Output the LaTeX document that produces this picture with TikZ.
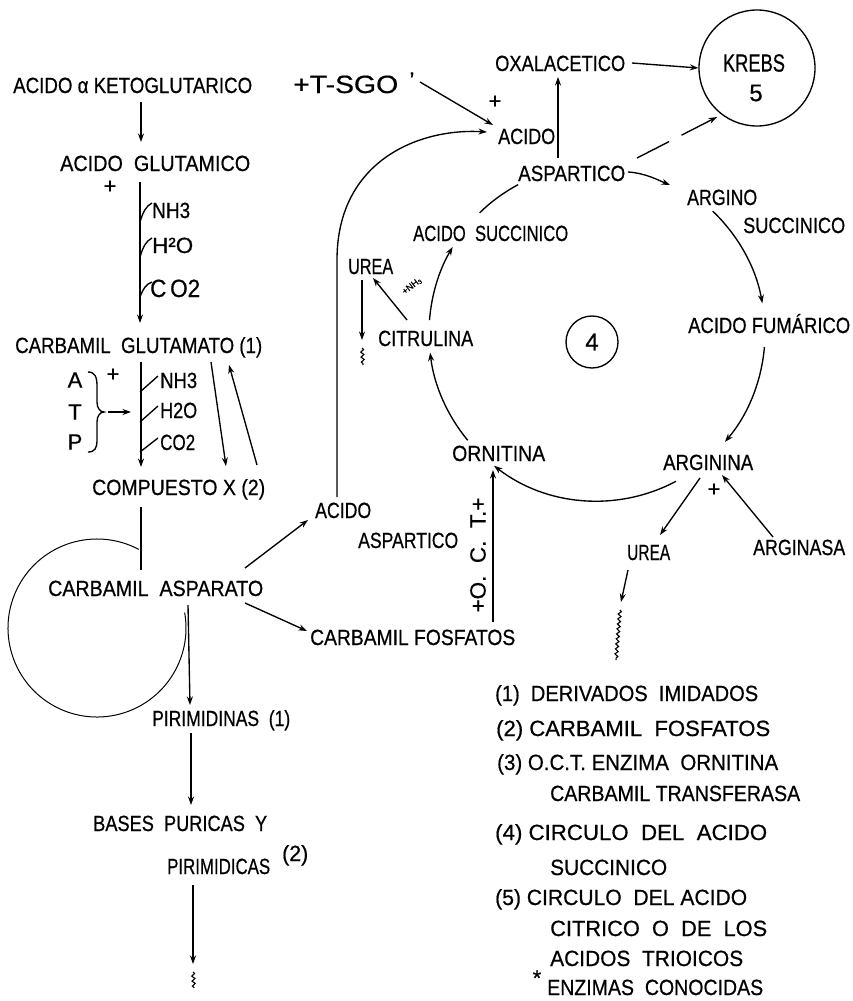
\documentclass[tikz,border=0pt]{standalone}
\usepackage{fontspec}
\setmainfont{Liberation Sans}[FakeBold=0.6]
\usepackage{graphicx}
\usetikzlibrary{arrows.meta,calc,decorations.pathmorphing}
\newcommand\tw[2]{\resizebox{#1pt}{\height}{#2}}
\begin{document}
\begin{tikzpicture}[x=1pt,y=1pt,
 txt/.style={anchor=base west, inner sep=0pt, yshift=-8pt, font=\fontsize{22}{26}\selectfont},
 ctxt/.style={anchor=center, inner sep=0pt, font=\fontsize{22}{26}\selectfont},
 ln/.style={line width=1.35pt},
 arr/.style={ln, -{Stealth[length=8.5pt,width=6pt]}},
 wig/.style={line width=1.1pt, decorate, decoration={snake, amplitude=1.5pt, segment length=5pt}}]
\fill[white] (0,0) rectangle (853,-1001);
\useasboundingbox (0,0) rectangle (853,-1001);

% ---------------- left column ----------------
\node[txt] (akg) at (13,-85) {\tw{239}{ACIDO α KETOGLUTARICO}};
\node[txt] (agl) at (60,-163) {\tw{190}{ACIDO\ \ GLUTAMICO}};
\node[ctxt] (pl1) at (110,-187) {+};
\node[txt] (nh3a) at (152,-210) {\tw{38}{NH3}};
\node[txt] (h2oa) at (152,-245) {\tw{41}{H²O}};
\node[txt, font=\fontsize{25}{28}\selectfont] (co2a) at (150,-289) {\tw{50}{C\,O2}};
\node[txt] (cgl) at (15,-345) {\tw{247}{CARBAMIL\ \ GLUTAMATO (1)}};
\node[ctxt] (lA) at (75,-380) {A};
\node[ctxt] (lT) at (75,-412) {T};
\node[ctxt] (lP) at (75,-442) {P};
\node[ctxt] (pl2) at (113,-375) {+};
\node[txt] (nh3b) at (160,-380) {\tw{37}{NH3}};
\node[txt] (h2ob) at (160,-410) {\tw{37}{H2O}};
\node[txt] (co2b) at (160,-442) {\tw{35}{CO2}};
\node[txt] (comp) at (92,-487) {\tw{173}{COMPUESTO X (2)}};
\node[txt] (cas) at (48,-588) {\tw{215}{CARBAMIL\ \ ASPARATO}};
\node[txt] (pir) at (152,-718) {\tw{138}{PIRIMIDINAS\ \ (1)}};
\node[txt] (bases) at (93,-823) {\tw{174}{BASES\ \ PURICAS\ \ Y}};
\node[txt] (pirim) at (167,-866) {\tw{103}{PIRIMIDICAS}};
\node[txt] (two) at (282,-853) {\tw{26}{(2)}};

% ---------------- middle ----------------
\node[txt] (acido2) at (315,-510) {\tw{56}{ACIDO}};
\node[txt] (asp2) at (358,-540) {\tw{100}{ASPARTICO}};
\node[txt] (cf) at (310,-637) {\tw{205}{CARBAMIL\ FOSFATOS}};
\node[ctxt, rotate=90] (oct) at (478,-555) {\tw{115}{+O.\ \ C.\ \ T.+}};
\node[txt] (orn) at (452,-453) {\tw{93}{ORNITINA}};
\node[txt] (cit) at (378,-338) {\tw{95}{CITRULINA}};
\node[txt] (urea1) at (348,-266) {\tw{45}{UREA}};
\node[ctxt, rotate=38, font=\fontsize{9}{10}\selectfont] (nh3s) at (412,-286) {+NH\textsubscript{3}};
\node[txt] (asuc) at (413,-233) {\tw{155}{ACIDO\ \ SUCCINICO}};
\node[txt] (acido1) at (498,-136) {\tw{57}{ACIDO}};
\node[ctxt] (pl4) at (495,-102) {+};
\node[txt] (asp1) at (518,-173) {\tw{107}{ASPARTICO}};
\node[txt] (oxal) at (495,-63) {\tw{130}{OXALACETICO}};
\node[txt, font=\fontsize{25}{28}\selectfont] (tsgo) at (293,-85) {\tw{105}{+T-SGO}};
\node[ctxt] (apos) at (412,-80) {’};
\node[circle, draw, ln, minimum size=116pt, inner sep=0pt] (krebs) at (757,-68) {};
\node[ctxt, font=\fontsize{25}{28}\selectfont] (krebst) at (754,-63) {\tw{62}{KREBS}};
\node[ctxt, font=\fontsize{24}{28}\selectfont] (five) at (756,-93) {5};
\node[circle, draw, ln, minimum size=52pt, inner sep=0pt, font=\fontsize{24}{28}\selectfont] (four) at (592,-342) {4};

% ---------------- right ----------------
\node[txt] (argino) at (687,-197) {\tw{70}{ARGINO}};
\node[txt] (succ) at (743,-225) {\tw{102}{SUCCINICO}};
\node[txt] (fum) at (688,-325) {\tw{162}{ACIDO\ FUMÁRICO}};
\node[txt] (argn) at (663,-462) {\tw{90}{ARGININA}};
\node[ctxt] (pl3) at (714,-490) {+};
\node[txt] (urea2) at (627,-552) {\tw{43}{UREA}};
\node[txt] (arginasa) at (753,-547) {\tw{92}{ARGINASA}};

% ---------------- legend ----------------
\node[txt] (l1) at (495,-693) {\tw{263}{(1)\ \ DERIVADOS\ \ IMIDADOS}};
\node[txt] (l2) at (496,-728) {\tw{274}{(2)\ CARBAMIL\ \ FOSFATOS}};
\node[txt] (l3) at (497,-762) {\tw{281}{(3)\ O.C.T.\ ENZIMA\ \ ORNITINA}};
\node[txt] (l4) at (550,-793) {\tw{250}{CARBAMIL TRANSFERASA}};
\node[txt] (l5) at (495,-832) {\tw{272}{(4)\ CIRCULO\ \ DEL\ \ ACIDO}};
\node[txt] (l6) at (550,-867) {\tw{117}{SUCCINICO}};
\node[txt] (l7) at (495,-897) {\tw{252}{(5)\ CIRCULO\ \ DEL ACIDO}};
\node[txt] (l8) at (550,-928) {\tw{217}{CITRICO\ \ O\ \ DE\ \ LOS}};
\node[txt] (l9) at (550,-958) {\tw{193}{ACIDOS\ \ TRIOICOS}};
\node[ctxt] (star) at (537,-978) {*};
\node[txt] (l10) at (547,-987) {\tw{216}{ENZIMAS\ \ CONOCIDAS}};

% ---------------- connectors, left ----------------
\draw[arr] (141,-102) coordinate (a1s) -- (141,-142) coordinate (a1e);
\draw[arr] (140,-182) coordinate (a2s) -- (140,-323) coordinate (a2e);
\draw[ln] (140,-222) .. controls (143,-212) and (146,-206) .. (152,-203);
\draw[ln] (140,-257) .. controls (143,-247) and (146,-241) .. (152,-238);
\draw[ln] (140,-297) .. controls (143,-289) and (146,-284) .. (152,-282);
\draw[arr] (141,-362) coordinate (a3s) -- (141,-467) coordinate (a3e);
\draw[ln] (140,-392) -- (158,-376);
\draw[ln] (140,-422) -- (158,-406);
\draw[ln] (140,-452) -- (158,-438);
\draw[ln] (88,-372) .. controls (95,-372) and (97,-377) .. (97,-386) -- (97,-402)
  .. controls (97,-408) and (100,-412) .. (104,-412)
  .. controls (100,-412) and (97,-416) .. (97,-422) -- (97,-440)
  .. controls (97,-448) and (95,-452) .. (88,-452);
\draw[arr] (108,-412) coordinate (atp1) -- (131,-412) coordinate (atp2);
\draw[arr] (211,-362) coordinate (a4s) -- (226,-466) coordinate (a4e);
\draw[arr] (257,-465) coordinate (a5s) -- (229,-365) coordinate (a5e);
\draw[ln] (141,-507) coordinate (a6s) -- (141,-570) coordinate (a6e);
\coordinate (lc) at (97,-628);
\draw[line width=1pt] ($(lc)+(62:89)$) coordinate (lcs) arc[start angle=62, end angle=370, radius=89];
\draw[arr] (188,-605) coordinate (a7s) -- (190,-705) coordinate (a7e);
\draw[arr] (191,-733) coordinate (a8s) -- (191,-805) coordinate (a8e);
\draw[arr] (193,-885) coordinate (a9s) -- (193,-964) coordinate (a9e);
\draw[wig] (193,-972) coordinate (w1s) -- (194,-988) coordinate (w1e);
\draw[arr] (245,-568) coordinate (a10s) -- (308,-520) coordinate (a10e);
\draw[arr] (245,-603) coordinate (a11s) -- (307,-631) coordinate (a11e);

% ---------------- connectors, middle ----------------
\draw[arr] (337,-497) coordinate (a12s) -- (337,-260) .. controls (337,-160) and (420,-128) .. (487,-132) coordinate (a12e);
\draw[arr] (420,-82) coordinate (a13s) -- (493,-125) coordinate (a13e);
\draw[arr] (558,-158) coordinate (a14s) -- (558,-77) coordinate (a14e);
\draw[arr] (632,-63) coordinate (a15s) -- (krebs.west);
\draw[arr, dash pattern=on 36pt off 14pt] (637,-158) coordinate (a16s) -- (717,-117) coordinate (a16e);
\draw[arr] (628,-172) coordinate (a17s) .. controls (645,-173) and (658,-180) .. (670,-185) coordinate (a17e);

% ---------------- cycle ----------------
\coordinate (cyc) at (597,-333);
\draw[arr] ($(cyc)+(46.5:168)$) coordinate (c1s) arc[start angle=46.5, end angle=10.2, radius=168];
\draw[arr] ($(cyc)+(-4.8:168)$) coordinate (c2s) arc[start angle=-4.8, end angle=-40.4, radius=168];
\draw[arr] ($(cyc)+(-62:168)$) coordinate (c3s) arc[start angle=-62, end angle=-127.8, radius=168];
\draw[arr] ($(cyc)+(-140.3:168)$) coordinate (c4s) arc[start angle=-140.3, end angle=-173.3, radius=168];
\draw[arr] ($(cyc)+(175.6:168)$) coordinate (c5s) arc[start angle=175.6, end angle=149.2, radius=168];
\draw[ln] ($(cyc)+(134.3:168)$) coordinate (c6s) arc[start angle=134.3, end angle=118, radius=168];

\draw[arr] (407,-320) coordinate (u1s) -- (373,-278) coordinate (u1e);
\draw[arr] (362,-280) coordinate (u2s) -- (362,-340) coordinate (u2e);
\draw[wig] (362,-348) coordinate (w2s) -- (363,-365) coordinate (w2e);
\draw[arr] (493,-622) coordinate (o1s) -- (493,-470) coordinate (o1e);

% ---------------- right connectors ----------------
\draw[arr] (700,-478) coordinate (r1s) -- (660,-535) coordinate (r1e);
\draw[arr] (773,-537) coordinate (r2s) -- (722,-475) coordinate (r2e);
\draw[arr] (628,-570) coordinate (r3s) -- (621,-602) coordinate (r3e);
\draw[wig] (620,-610) coordinate (w3s) -- (616,-660) coordinate (w3e);
\end{tikzpicture}
\end{document}
